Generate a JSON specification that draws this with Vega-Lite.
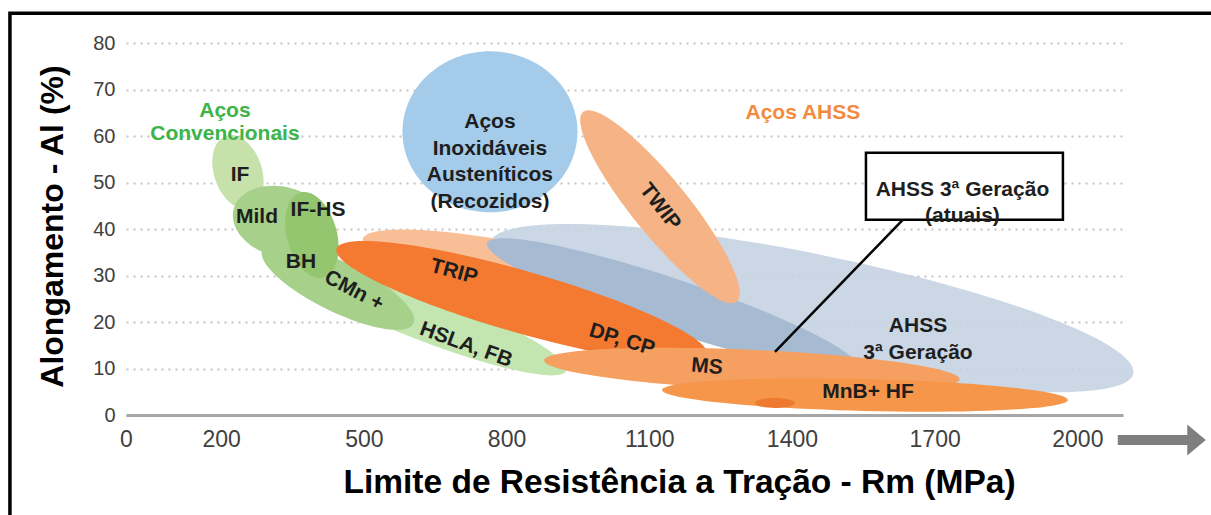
{
  "$schema": "https://vega.github.io/schema/vega-lite/v6.json",
  "width": 997,
  "height": 372,
  "autosize": "none",
  "padding": {"left": 126, "top": 43, "right": 88, "bottom": 100},
  "background": "white",
  "config": {"view": {"stroke": null}, "font": "Liberation Sans"},
  "datasets": {
    "ellipses": [
      {"name": "Inox", "rm": 765.2, "al": 60.9},
      {"name": "AHSS3", "rm": 1442, "al": 23.0},
      {"name": "AHSS3atual", "rm": 1147.7, "al": 23.7},
      {"name": "HSLA", "rm": 634.9, "al": 20.9},
      {"name": "CMn", "rm": 445.7, "al": 27.6},
      {"name": "IF", "rm": 235.4, "al": 52.3},
      {"name": "Mild", "rm": 327.9, "al": 41.5},
      {"name": "IF-HS", "rm": 390.9, "al": 38.7},
      {"name": "TRIPclaro", "rm": 807.2, "al": 31.64},
      {"name": "TRIP-DP", "rm": 832.5, "al": 24.3},
      {"name": "TWIP", "rm": 1122.6, "al": 44.8},
      {"name": "MS", "rm": 1316, "al": 9.7},
      {"name": "MnB", "rm": 1553.5, "al": 4.3},
      {"name": "MnB2", "rm": 1364.3, "al": 2.6}
    ],
    "labels": [
      {"text": "IF", "rm": 239.6, "al": 51.7},
      {"text": "Mild", "rm": 275.4, "al": 42.6},
      {"text": "IF-HS", "rm": 403.6, "al": 44.1},
      {"text": "BH", "rm": 367.9, "al": 32.9},
      {"text": "MnB+ HF", "rm": 1559.8, "al": 4.95},
      {"text": "AHSS\n3ª Geração", "rm": 1665, "al": 19.05},
      {"text": "Aços\nInoxidáveis\nAusteníticos\n(Recozidos)", "rm": 765, "al": 62.96},
      {"text": "AHSS 3ª Geração\n(atuais)", "rm": 1758.5, "al": 48.4}
    ],
    "rotlabels": [
      {"text": "TWIP", "rm": 1122.6, "al": 44.77},
      {"text": "TRIP", "rm": 689.5, "al": 30.78},
      {"text": "DP, CP", "rm": 1042.7, "al": 16.14},
      {"text": "MS", "rm": 1221.3, "al": 10.33},
      {"text": "HSLA, FB", "rm": 714.7, "al": 15.07},
      {"text": "CMn +", "rm": 479.3, "al": 26.69}
    ],
    "groups": [
      {"text": "Aços\nConvencionais", "grupo": "conv", "rm": 208, "al": 65.3},
      {"text": "Aços AHSS", "grupo": "ahss", "rm": 1423, "al": 65.0}
    ],
    "decor": [
      {"item": "frame", "rm": -244, "rm2": 2300, "al": 86.4, "al2": -23},
      {"item": "callout", "rm": 1633, "rm2": 1364.3, "al": 41.97, "al2": 13.56},
      {"item": "box", "rm": 1555.6, "rm2": 1969.7, "al": 56.39, "al2": 41.97},
      {"item": "arrow", "rm": 2085, "rm2": 2236, "al": -5.4, "al2": -5.4},
      {"item": "head", "rm": 2250.6, "rm2": 2250.6, "al": -5.4, "al2": -5.4}
    ]
  },
  "encoding": {
    "x": {
      "field": "rm", "type": "quantitative",
      "scale": {"domain": [0, 2096], "nice": false, "zero": false},
      "axis": {
        "values": [0, 200, 500, 800, 1100, 1400, 1700, 2000],
        "format": "d",
        "title": "Limite de Resistência a Tração - Rm (MPa)",
        "grid": false, "ticks": false, "tickSize": 0,
        "domainColor": "#a6a6a6", "domainWidth": 3,
        "labelFontSize": 23, "labelColor": "#404040", "labelPadding": 13, "labelFlush": false,
        "titleFontSize": 33.5, "titleFontWeight": "bold", "titleColor": "#000000",
        "titleX": 553, "titleY": 77, "titleBaseline": "alphabetic", "titleAlign": "center", "titleAnchor": null
      }
    },
    "y": {
      "field": "al", "type": "quantitative",
      "scale": {"domain": [0, 80], "nice": false, "zero": false},
      "axis": {
        "values": [0, 10, 20, 30, 40, 50, 60, 70, 80],
        "title": "Alongamento - Al (%)",
        "grid": true, "gridColor": "#c4c4c4", "gridDash": [2, 5], "gridWidth": 2,
        "domain": false, "ticks": false, "tickSize": 0,
        "labelFontSize": 20, "labelColor": "#404040", "labelPadding": 11,
        "titleFontSize": 32, "titleFontWeight": "bold", "titleColor": "#000000",
        "titleX": -74, "titleY": 183, "titleBaseline": "middle", "titleAlign": "center", "titleAngle": 270
      }
    }
  },
  "layer": [
    {
      "data": {"name": "decor"},
      "transform": [{"filter": "datum.item==='frame'"}],
      "mark": {"type": "rect", "filled": false, "color": "#000000", "strokeWidth": 3.5},
      "encoding": {"x2": {"field": "rm2"}, "y2": {"field": "al2"}}
    },
    {
      "data": {"name": "ellipses"},
      "layer": [
        {"transform": [{"filter": "datum.name==='Inox'"}], "mark": {"type": "point", "filled": true, "opacity": 1, "strokeWidth": 0, "angle": 0, "size": 30625, "color": "#a4cbe9", "shape": "M1,0C1,0.5081,0.5523,0.92,0,0.92C-0.5523,0.92,-1,0.5081,-1,0C-1,-0.5081,-0.5523,-0.92,0,-0.92C0.5523,-0.92,1,-0.5081,1,0Z"}},
        {"transform": [{"filter": "datum.name==='AHSS3'"}], "mark": {"type": "point", "filled": true, "opacity": 0.88, "strokeWidth": 0, "angle": 11.5, "size": 430336, "color": "#c4d2e1", "shape": "M1,0C1,0.0909,0.5523,0.1646,0,0.1646C-0.5523,0.1646,-1,0.0909,-1,0C-1,-0.0909,-0.5523,-0.1646,0,-0.1646C0.5523,-0.1646,1,-0.0909,1,0Z"}},
        {"transform": [{"filter": "datum.name==='TRIPclaro'"}], "mark": {"type": "point", "filled": true, "opacity": 1, "strokeWidth": 0, "angle": 11, "size": 90000, "color": "#f8be95", "shape": "M1,0C1,0.0957,0.5523,0.1733,0,0.1733C-0.5523,0.1733,-1,0.0957,-1,0C-1,-0.0957,-0.5523,-0.1733,0,-0.1733C0.5523,-0.1733,1,-0.0957,1,0Z"}},
        {"transform": [{"filter": "datum.name==='AHSS3atual'"}], "mark": {"type": "point", "filled": true, "opacity": 1, "strokeWidth": 0, "angle": 18.5, "size": 152100, "color": "#a6bbd2", "shape": "M1,0C1,0.0736,0.5523,0.1333,0,0.1333C-0.5523,0.1333,-1,0.0736,-1,0C-1,-0.0736,-0.5523,-0.1333,0,-0.1333C0.5523,-0.1333,1,-0.0736,1,0Z"}},
        {"transform": [{"filter": "datum.name==='HSLA'"}], "mark": {"type": "point", "filled": true, "opacity": 1, "strokeWidth": 0, "angle": 21, "size": 87616, "color": "#c3e5b0", "shape": "M1,0C1,0.0896,0.5523,0.1622,0,0.1622C-0.5523,0.1622,-1,0.0896,-1,0C-1,-0.0896,-0.5523,-0.1622,0,-0.1622C0.5523,-0.1622,1,-0.0896,1,0Z"}},
        {"transform": [{"filter": "datum.name==='CMn'"}], "mark": {"type": "point", "filled": true, "opacity": 1, "strokeWidth": 0, "angle": 26, "size": 28224, "color": "#a7d08b", "shape": "M1,0C1,0.1644,0.5523,0.2976,0,0.2976C-0.5523,0.2976,-1,0.1644,-1,0C-1,-0.1644,-0.5523,-0.2976,0,-0.2976C0.5523,-0.2976,1,-0.1644,1,0Z"}},
        {"transform": [{"filter": "datum.name==='IF'"}], "mark": {"type": "point", "filled": true, "opacity": 1, "strokeWidth": 0, "angle": 72, "size": 5776, "color": "#c6e1aa", "shape": "M1,0C1,0.3488,0.5523,0.6316,0,0.6316C-0.5523,0.6316,-1,0.3488,-1,0C-1,-0.3488,-0.5523,-0.6316,0,-0.6316C0.5523,-0.6316,1,-0.3488,1,0Z"}},
        {"transform": [{"filter": "datum.name==='Mild'"}], "mark": {"type": "point", "filled": true, "opacity": 1, "strokeWidth": 0, "angle": 15, "size": 10000, "color": "#a7d08b", "shape": "M1,0C1,0.3866,0.5523,0.7,0,0.7C-0.5523,0.7,-1,0.3866,-1,0C-1,-0.3866,-0.5523,-0.7,0,-0.7C0.5523,-0.7,1,-0.3866,1,0Z"}},
        {"transform": [{"filter": "datum.name==='IF-HS'"}], "mark": {"type": "point", "filled": true, "opacity": 1, "strokeWidth": 0, "angle": 75, "size": 7744, "color": "#93c66e", "shape": "M1,0C1,0.3139,0.5523,0.5682,0,0.5682C-0.5523,0.5682,-1,0.3139,-1,0C-1,-0.3139,-0.5523,-0.5682,0,-0.5682C0.5523,-0.5682,1,-0.3139,1,0Z"}},
        {"transform": [{"filter": "datum.name==='TRIP-DP'"}], "mark": {"type": "point", "filled": true, "opacity": 1, "strokeWidth": 0, "angle": 16, "size": 148996, "color": "#f37a30", "shape": "M1,0C1,0.0887,0.5523,0.1606,0,0.1606C-0.5523,0.1606,-1,0.0887,-1,0C-1,-0.0887,-0.5523,-0.1606,0,-0.1606C0.5523,-0.1606,1,-0.0887,1,0Z"}},
        {"transform": [{"filter": "datum.name==='TWIP'"}], "mark": {"type": "point", "filled": true, "opacity": 1, "strokeWidth": 0, "angle": 51, "size": 59536, "color": "#f6b385", "shape": "M1,0C1,0.1268,0.5523,0.2295,0,0.2295C-0.5523,0.2295,-1,0.1268,-1,0C-1,-0.1268,-0.5523,-0.2295,0,-0.2295C0.5523,-0.2295,1,-0.1268,1,0Z"}},
        {"transform": [{"filter": "datum.name==='MS'"}], "mark": {"type": "point", "filled": true, "opacity": 1, "strokeWidth": 0, "angle": 2.6, "size": 173056, "color": "#f5a060", "shape": "M1,0C1,0.0531,0.5523,0.0962,0,0.0962C-0.5523,0.0962,-1,0.0531,-1,0C-1,-0.0531,-0.5523,-0.0962,0,-0.0962C0.5523,-0.0962,1,-0.0531,1,0Z"}},
        {"transform": [{"filter": "datum.name==='MnB'"}], "mark": {"type": "point", "filled": true, "opacity": 1, "strokeWidth": 0, "angle": 1.4, "size": 164836, "color": "#f5964a", "shape": "M1,0C1,0.0435,0.5523,0.0788,0,0.0788C-0.5523,0.0788,-1,0.0435,-1,0C-1,-0.0435,-0.5523,-0.0788,0,-0.0788C0.5523,-0.0788,1,-0.0435,1,0Z"}},
        {"transform": [{"filter": "datum.name==='MnB2'"}], "mark": {"type": "point", "filled": true, "opacity": 1, "strokeWidth": 0, "angle": 0, "size": 1600, "color": "#ee7a2f", "shape": "M1,0C1,0.1381,0.5523,0.25,0,0.25C-0.5523,0.25,-1,0.1381,-1,0C-1,-0.1381,-0.5523,-0.25,0,-0.25C0.5523,-0.25,1,-0.1381,1,0Z"}}
      ]
    },
    {
      "data": {"name": "decor"},
      "transform": [{"filter": "datum.item==='callout'"}],
      "mark": {"type": "rule", "color": "#000000", "strokeWidth": 2.5},
      "encoding": {"x2": {"field": "rm2"}, "y2": {"field": "al2"}}
    },
    {
      "data": {"name": "decor"},
      "transform": [{"filter": "datum.item==='box'"}],
      "mark": {"type": "rect", "fill": "#ffffff", "stroke": "#000000", "strokeWidth": 2.5},
      "encoding": {"x2": {"field": "rm2"}, "y2": {"field": "al2"}}
    },
    {
      "data": {"name": "decor"},
      "transform": [{"filter": "datum.item==='arrow'"}],
      "mark": {"type": "rule", "color": "#7f7f7f", "strokeWidth": 10},
      "encoding": {"x2": {"field": "rm2"}}
    },
    {
      "data": {"name": "decor"},
      "transform": [{"filter": "datum.item==='head'"}],
      "mark": {"type": "point", "filled": true, "opacity": 1, "strokeWidth": 0, "color": "#7f7f7f", "size": 961, "shape": "M-0.6,-1L0.6,0L-0.6,1Z"}
    },
    {
      "data": {"name": "labels"},
      "mark": {"type": "text", "font": "Liberation Sans", "fontWeight": "bold", "fontSize": 21, "color": "#1e1e1e", "align": "center", "baseline": "middle", "lineBreak": "\n", "lineHeight": 26.5},
      "encoding": {"text": {"field": "text"}}
    },
    {
      "data": {"name": "rotlabels"},
      "transform": [{"filter": "datum.text==='TWIP'"}],
      "mark": {"type": "text", "font": "Liberation Sans", "fontWeight": "bold", "fontSize": 21, "color": "#1e1e1e", "align": "center", "baseline": "middle", "angle": 52},
      "encoding": {"text": {"field": "text"}}
    },
    {
      "data": {"name": "rotlabels"},
      "transform": [{"filter": "datum.text==='TRIP'"}],
      "mark": {"type": "text", "font": "Liberation Sans", "fontWeight": "bold", "fontSize": 21, "color": "#1e1e1e", "align": "center", "baseline": "middle", "angle": 15},
      "encoding": {"text": {"field": "text"}}
    },
    {
      "data": {"name": "rotlabels"},
      "transform": [{"filter": "datum.text==='DP, CP'"}],
      "mark": {"type": "text", "font": "Liberation Sans", "fontWeight": "bold", "fontSize": 21, "color": "#1e1e1e", "align": "center", "baseline": "middle", "angle": 17},
      "encoding": {"text": {"field": "text"}}
    },
    {
      "data": {"name": "rotlabels"},
      "transform": [{"filter": "datum.text==='MS'"}],
      "mark": {"type": "text", "font": "Liberation Sans", "fontWeight": "bold", "fontSize": 21, "color": "#1e1e1e", "align": "center", "baseline": "middle", "angle": 5},
      "encoding": {"text": {"field": "text"}}
    },
    {
      "data": {"name": "rotlabels"},
      "transform": [{"filter": "datum.text==='HSLA, FB'"}],
      "mark": {"type": "text", "font": "Liberation Sans", "fontWeight": "bold", "fontSize": 21, "color": "#1e1e1e", "align": "center", "baseline": "middle", "angle": 20},
      "encoding": {"text": {"field": "text"}}
    },
    {
      "data": {"name": "rotlabels"},
      "transform": [{"filter": "datum.text==='CMn +'"}],
      "mark": {"type": "text", "font": "Liberation Sans", "fontWeight": "bold", "fontSize": 21, "color": "#1e1e1e", "align": "center", "baseline": "middle", "angle": 28},
      "encoding": {"text": {"field": "text"}}
    },
    {
      "data": {"name": "groups"},
      "mark": {"type": "text", "font": "Liberation Sans", "fontWeight": "bold", "fontSize": 21, "align": "center", "baseline": "middle", "lineBreak": "\n", "lineHeight": 23},
      "encoding": {
        "text": {"field": "text"},
        "color": {"field": "grupo", "type": "nominal", "scale": {"domain": ["conv", "ahss"], "range": ["#3cb44a", "#f28b40"]}, "legend": null}
      }
    }
  ]
}
